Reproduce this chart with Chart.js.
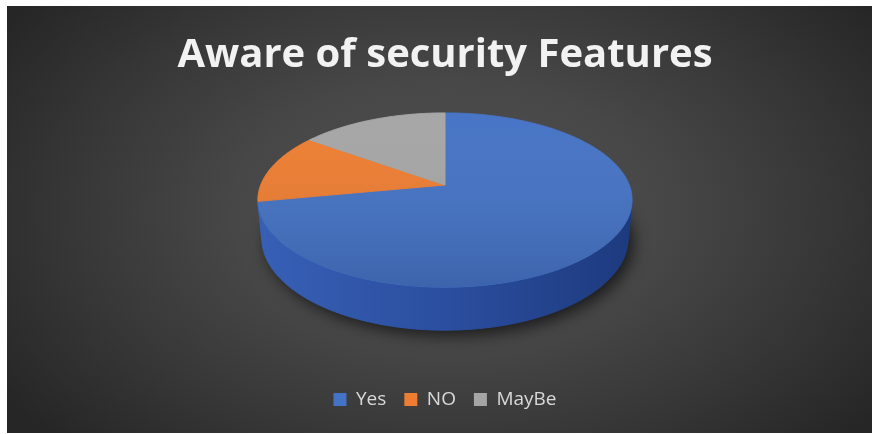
<!DOCTYPE html>
<html>
<head>
<meta charset="utf-8">
<script src="https://cdn.jsdelivr.net/npm/chart.js@4.4.1/dist/chart.umd.min.js"></script>
<style>
  html, body { margin: 0; padding: 0; background: #fff; }
  #wrap {
    position: absolute; left: 7px; top: 6px; width: 865px; height: 427px;
    background: radial-gradient(ellipse 62% 78% at 51% 48%, #525252 0%, #474747 40%, #363636 72%, #262626 100%);
  }
  canvas { display: block; }
</style>
</head>
<body>
<div id="wrap"><canvas id="pie" width="865" height="427"></canvas></div>
<script>
// ─── Data ─────────────────────────────────────────────────────────────────────
const labels = ['Yes', 'NO', 'MayBe'];
const shares = [72, 13, 15];

// ─── Colours ──────────────────────────────────────────────────────────────────
const topColors = ['#4472c4', '#ed7d31', '#a5a5a5'];
// wall shading: left, middle, right
const sideColors = [
    ['#3760b6', '#2b4e9f', '#1d3a7e'],
    ['#c8611f', '#b0541a', '#8a4013'],
    ['#8c8c8c', '#7a7a7a', '#5e5e5e']
];

// ─── Perspective camera for the disc ──────────────────────────────────────────
const CY = 179;                         // canvas y of the pie centre
const TILT = 27.3 * Math.PI / 180;      // viewing angle above the table
const DIST = 5.154;                     // camera distance, in radii
const FOCAL = 5.08;                     // focal length, per pixel of radius
const THICK = 0.236;                    // disc thickness, in radii
const COS = Math.cos(TILT), SIN = Math.sin(TILT);

// theta: clockwise from the far side, z: 0 = top face, negative = below
function project(a, theta, z) {
    const u = Math.sin(theta), w = Math.cos(theta);
    const depth = DIST + w * COS - z * SIN;
    const f = FOCAL * a.outerRadius;
    return [a.x + f * u / depth, CY - f * (w * SIN + z * COS) / depth];
}

// chart.js arcs start at -PI/2 (top); shift to theta measured from the top
const toTheta = ang => ang + Math.PI / 2;

function rimPath(ctx, a, t0, t1, z, first) {
    const n = Math.max(2, Math.ceil(Math.abs(t1 - t0) / 0.01));
    for (let i = 0; i <= n; i++) {
        const p = project(a, t0 + (t1 - t0) * i / n, z);
        if (i === 0 && first) ctx.moveTo(p[0], p[1]);
        else ctx.lineTo(p[0], p[1]);
    }
}

// walls face the camera only on the near side
const WALL_LIM = Math.acos(-1 / (DIST * COS));

const tiltPlugin = {
    id: 'tilt',
    beforeDatasetsDraw(chart) {
        const ctx = chart.ctx;
        const arcs = chart.getDatasetMeta(0).data;
        const a0 = arcs[0];
        const r = a0.outerRadius;

        ctx.save();

        // drop shadow under the disc
        ctx.save();
        ctx.shadowColor = 'rgba(0,0,0,0.65)';
        ctx.shadowBlur = 16;
        ctx.shadowOffsetX = 5;
        ctx.shadowOffsetY = 5;
        ctx.fillStyle = '#1d3a7e';
        ctx.beginPath();
        rimPath(ctx, a0, 0, Math.PI * 2, -THICK, true);
        ctx.closePath();
        ctx.fill();
        ctx.restore();

        // outer walls
        arcs.forEach((a, i) => {
            const t0 = Math.max(toTheta(a.startAngle), WALL_LIM);
            const t1 = Math.min(toTheta(a.endAngle), Math.PI * 2 - WALL_LIM);
            if (t1 <= t0) return;
            const g = ctx.createLinearGradient(a.x - r, 0, a.x + r, 0);
            g.addColorStop(0, sideColors[i][0]);
            g.addColorStop(0.5, sideColors[i][1]);
            g.addColorStop(1, sideColors[i][2]);
            ctx.fillStyle = g;
            ctx.strokeStyle = g;
            ctx.lineWidth = 1;
            ctx.beginPath();
            rimPath(ctx, a, t0, t1, 0, true);
            rimPath(ctx, a, t1, t0, -THICK, false);
            ctx.closePath();
            ctx.fill();
            ctx.stroke();
        });

        // top faces
        arcs.forEach((a, i) => {
            ctx.fillStyle = topColors[i];
            ctx.strokeStyle = topColors[i];
            ctx.lineWidth = 1;
            ctx.beginPath();
            ctx.moveTo(a.x, CY);
            rimPath(ctx, a, toTheta(a.startAngle), toTheta(a.endAngle), 0, false);
            ctx.closePath();
            ctx.fill();
            ctx.stroke();
        });

        // soft shading across the top
        const top = project(a0, 0, 0)[1], bottom = project(a0, Math.PI, 0)[1];
        const g = ctx.createLinearGradient(0, top, 0, bottom);
        g.addColorStop(0, 'rgba(255,255,255,0.02)');
        g.addColorStop(1, 'rgba(0,0,0,0.12)');
        ctx.fillStyle = g;
        ctx.beginPath();
        rimPath(ctx, a0, 0, Math.PI * 2, 0, true);
        ctx.closePath();
        ctx.fill();

        ctx.restore();
        return false;
    }
};

new Chart(document.getElementById('pie'), {
    type: 'pie',
    data: {
        labels,
        datasets: [{
            data: shares,
            backgroundColor: topColors,
            borderWidth: 0
        }]
    },
    options: {
        responsive: false,
        animation: false,
        events: [],
        radius: 187,
        layout: { padding: { left: 11, bottom: 14 } },
        plugins: {
            title: {
                display: true,
                text: 'Aware of security Features',
                color: '#f2f2f2',
                font: { family: 'Open Sans', size: 40, weight: 'bold' },
                padding: { top: 26, bottom: 10 }
            },
            legend: {
                position: 'bottom',
                labels: {
                    color: '#d9d9d9',
                    font: { family: 'Open Sans', size: 19 },
                    boxWidth: 13,
                    boxHeight: 13,
                    padding: 18,
                    generateLabels: () => labels.map((t, i) => ({
                        text: t,
                        fillStyle: topColors[i],
                        strokeStyle: topColors[i],
                        lineWidth: 0,
                        fontColor: '#d9d9d9',
                        index: i
                    }))
                }
            },
            tooltip: { enabled: false }
        }
    },
    plugins: [tiltPlugin]
});
</script>
</body>
</html>
